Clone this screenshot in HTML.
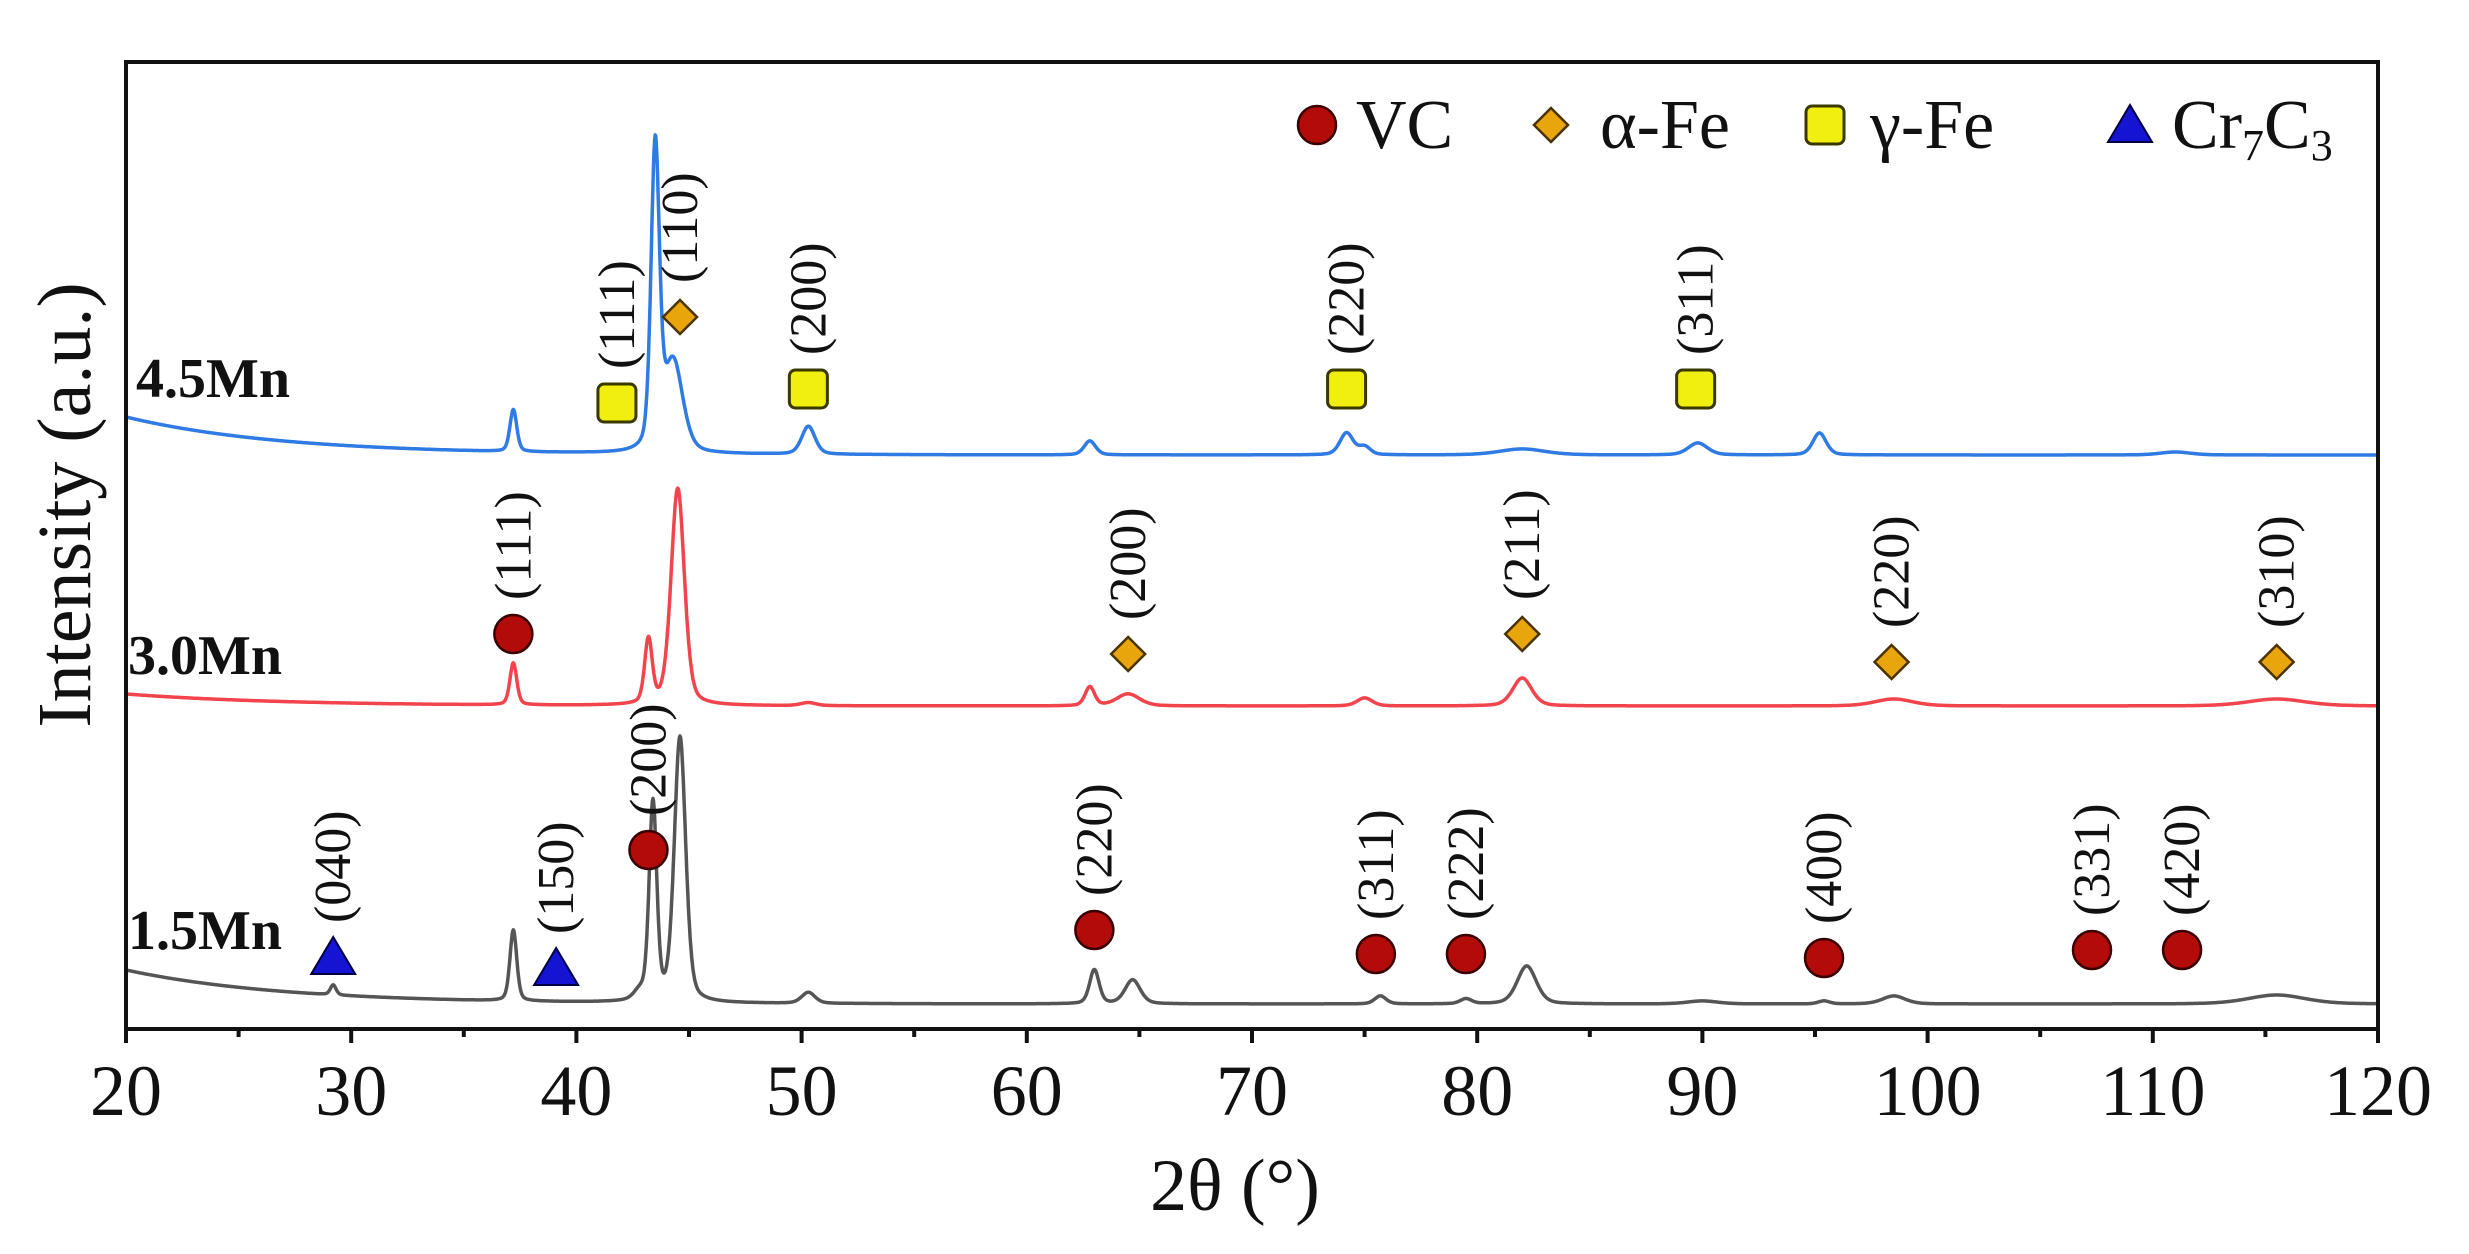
<!DOCTYPE html>
<html><head><meta charset="utf-8"><style>
html,body{margin:0;padding:0;background:#fff;}
svg{display:block;font-family:"Liberation Serif","DejaVu Serif",serif;}
</style></head><body>
<svg id="chart" width="2469" height="1254" viewBox="0 0 2469 1254" xmlns="http://www.w3.org/2000/svg">
<rect x="0" y="0" width="2469" height="1254" fill="#fff"/>
<g id="plot"></g>
</svg>
<script>
// ---- data ----
const xTicks = [20, 30, 40, 50, 60, 70, 80, 90, 100, 110, 120];
const seriesNames = ["4.5Mn", "3.0Mn", "1.5Mn"];
const seriesBase = [574, 323, 25];
const seriesBg = [38, 12, 34];
const blueCenters = [37.2, 43.5, 44.3, 50.3, 62.8, 74.2, 75.0, 82.0, 89.8, 95.2, 111.0];
const blueHeights = [42, 300, 90, 28, 14, 22, 8, 6, 12, 22, 3];
const blueWidths = [0.18, 0.22, 0.5, 0.35, 0.3, 0.35, 0.3, 1.2, 0.5, 0.35, 0.8];
const redCenters = [37.2, 43.2, 44.5, 50.3, 62.8, 64.5, 75.0, 82.0, 98.5, 115.5];
const redHeights = [42, 64, 217, 3, 19, 12, 8, 28, 7, 7];
const redWidths = [0.18, 0.2, 0.35, 0.4, 0.25, 0.6, 0.4, 0.5, 1.0, 1.5];
const grayCenters = [29.2, 37.2, 42.8, 43.4, 44.6, 50.3, 63.0, 64.7, 75.7, 79.5, 82.2, 90.0, 95.4, 98.5, 115.5];
const grayHeights = [10, 71, 8, 198, 265, 11, 34, 24, 8, 5, 38, 3, 3, 8, 9];
const grayWidths = [0.15, 0.18, 0.3, 0.2, 0.3, 0.35, 0.25, 0.4, 0.3, 0.3, 0.5, 0.8, 0.3, 0.6, 1.5];
// markers
const markerPhases = ["gamma","alpha","gamma","gamma","gamma","vc","alpha","alpha","alpha","alpha","cr","cr","vc","vc","vc","vc","vc","vc","vc"];
const markerX = [41.8, 44.6, 50.3, 74.2, 89.7, 37.2, 64.5, 82.0, 98.4, 115.5, 29.2, 39.1, 43.2, 63.0, 75.5, 79.5, 95.4, 107.3, 111.3];
const markerY = [626, 712, 640, 640, 640, 395, 375, 395, 367, 367, 72, 61, 179, 99, 75, 75, 71, 79, 79];
const markerLabels = ["(111)","(110)","(200)","(220)","(311)","(111)","(200)","(211)","(220)","(310)","(040)","(150)","(200)","(220)","(311)","(222)","(400)","(331)","(420)"];

// ---- axes ----
const X0 = 126, X1 = 2378, YB = 1029, YT = 62;
const xs = v => X0 + (v - 20) / 100 * (X1 - X0);
const ys = v => YB - v;

const NS = "http://www.w3.org/2000/svg";
const plot = document.getElementById("plot");
function mk(tag, attrs, parent) {
  const e = document.createElementNS(NS, tag);
  for (const k in attrs) e.setAttribute(k, attrs[k]);
  (parent || plot).appendChild(e);
  return e;
}

const colors = ["#2f7be3", "#f2444c", "#555555"];
const centersAll = [blueCenters, redCenters, grayCenters];
const heightsAll = [blueHeights, redHeights, grayHeights];
const widthsAll = [blueWidths, redWidths, grayWidths];
const traceNames = ["trace-4-5mn", "trace-3-0mn", "trace-1-5mn"];
const eta = 0.35;
for (let s = 0; s < 3; s++) {
  let d = "";
  for (let i = 0; i <= 4000; i++) {
    const x = 20 + i * 0.025;
    let v = seriesBase[s] + seriesBg[s] * Math.exp(-(x - 20) / 7);
    const c = centersAll[s], h = heightsAll[s], w = widthsAll[s];
    for (let k = 0; k < c.length; k++) {
      const t = (x - c[k]) / w[k];
      v += h[k] * (eta / (1 + t * t) + (1 - eta) * Math.exp(-0.693 * t * t));
    }
    d += (i ? "L" : "M") + xs(x).toFixed(1) + " " + ys(v).toFixed(1);
  }
  const p = mk("path", {d: d, fill: "none", stroke: colors[s], "stroke-width": 3.5, "stroke-linejoin": "round"});
  
  
}

const labelPos = [[136, 397], [128, 674], [128, 949]];
for (let s = 0; s < 3; s++) {
  const t = mk("text", {x: labelPos[s][0], y: labelPos[s][1], "font-size": 56, "font-weight": "bold", fill: "#111"});
  t.textContent = seriesNames[s];
  
  
}

function drawMarker(kind, cx, cy, parent) {
  let e;
  if (kind === "vc") e = mk("circle", {cx: cx, cy: cy, r: 19, fill: "#b30a0a", stroke: "#3a0000", "stroke-width": 2.5}, parent);
  else if (kind === "alpha") e = mk("path", {d: `M${cx} ${cy-17}L${cx+17} ${cy}L${cx} ${cy+17}L${cx-17} ${cy}Z`, fill: "#e8a50c", stroke: "#4a3300", "stroke-width": 2.5}, parent);
  else if (kind === "gamma") e = mk("rect", {x: cx-19, y: cy-19, width: 38, height: 38, rx: 6, fill: "#f0ef10", stroke: "#3a3a00", "stroke-width": 3}, parent);
  else e = mk("path", {d: `M${cx} ${cy-20}L${cx+22} ${cy+17}L${cx-22} ${cy+17}Z`, fill: "#1414d2", stroke: "#000044", "stroke-width": 2}, parent);
  return e;
}
for (let i = 0; i < markerX.length; i++) {
  const cx = xs(markerX[i]), cy = ys(markerY[i]);
  const m = drawMarker(markerPhases[i], cx, cy);
  
  
  const lx = cx + 17, ly = cy - 34;
  const t = mk("text", {x: lx, y: ly, "font-size": 52, fill: "#111", transform: `rotate(-90 ${lx} ${ly})`});
  t.textContent = markerLabels[i];
  
  
}

const fr = mk("rect", {x: X0, y: YT, width: X1 - X0, height: YB - YT, fill: "none", stroke: "#111", "stroke-width": 4});



for (let i = 0; i < xTicks.length; i++) {
  const x = xs(xTicks[i]);
  const tk = mk("line", {x1: x, y1: YB, x2: x, y2: YB + 14, stroke: "#111", "stroke-width": 4});
  
  
  if (i < xTicks.length - 1) {
    const xm = xs(xTicks[i] + 5);
    const mt = mk("line", {x1: xm, y1: YB, x2: xm, y2: YB + 8, stroke: "#111", "stroke-width": 4});
    
    
  }
  const tl = mk("text", {x: x, y: 1115, "font-size": 72, "text-anchor": "middle", fill: "#111"});
  tl.textContent = xTicks[i];
  
  
}

const xt = mk("text", {x: 1235, y: 1210, "font-size": 74, "text-anchor": "middle", fill: "#111"});
xt.textContent = "2θ (°)";


const yt = mk("text", {x: 90, y: 505, "font-size": 76, "text-anchor": "middle", fill: "#111", transform: "rotate(-90 90 505)"});
yt.textContent = "Intensity (a.u.)";



const legendKinds = ["vc", "alpha", "gamma", "cr"];
const legendIconX = [1317, 1551, 1825, 2130];
const legendTextX = [1356, 1600, 1870, 2172];
const legendTexts = ["VC", "α-Fe", "γ-Fe", null];
for (let i = 0; i < 4; i++) {
  const ic = drawMarker(legendKinds[i], legendIconX[i], 125);
  
  
  const t = mk("text", {x: legendTextX[i], y: 148, "font-size": 70, fill: "#111"});
  if (legendTexts[i]) t.textContent = legendTexts[i];
  else t.innerHTML = 'Cr<tspan font-size="44" dy="12">7</tspan><tspan dy="-12">C</tspan><tspan font-size="44" dy="12">3</tspan>';
  
  
}
</script>
</body></html>
